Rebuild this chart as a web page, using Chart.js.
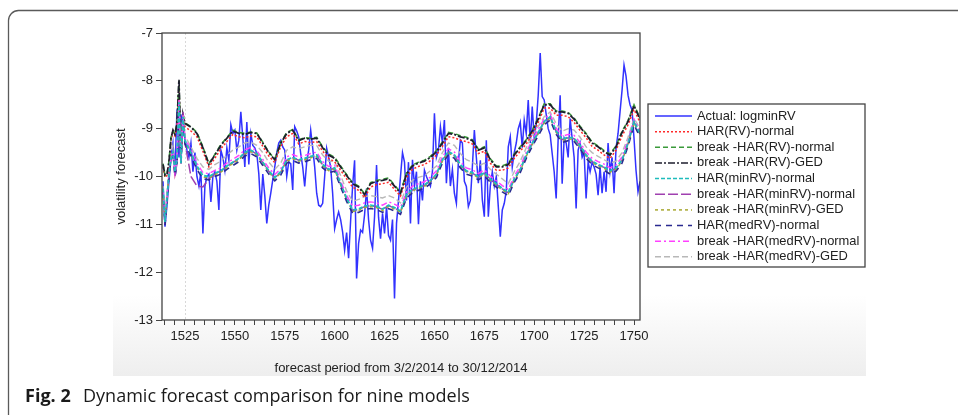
<!DOCTYPE html>
<html>
<head>
<meta charset="utf-8">
<script src="https://cdn.jsdelivr.net/npm/chart.js@4.4.1/dist/chart.umd.min.js"></script>
<style>
  html, body { margin: 0; padding: 0; background: #fff; }
  canvas { display: block; }
</style>
</head>
<body>
<canvas id="chart" width="958" height="415"></canvas>
<script>
// observation numbers of the actual series start here (one value per day)
const actualStart = 1514;
const actualLogMinRV = [
  -10.1, -11.05, -10.6, -10.1, -9.6, -9.3, -9.9, -8.6, -9.6, -8.7,
  -9.0, -9.2, -9.45, -9.6, -9.3, -9.9, -9.5, -10.0, -10.2, -9.9,
  -11.19, -10.2, -10.0, -9.95, -10.53, -10.0, -9.9, -10.1, -10.7, -9.45,
  -9.6, -9.87, -9.4, -9.66, -8.92, -9.1, -9.03, -9.45, -9.24, -8.65,
  -9.2, -9.8, -8.86, -9.75, -9.1, -9.35, -9.4, -9.52, -9.94, -10.7,
  -9.95, -10.4, -10.98, -10.6, -10.35, -10.07, -9.8, -9.5, -9.3, -9.24,
  -9.38, -9.45, -10.0, -9.7, -9.73, -10.28, -8.96, -9.05, -9.17, -9.52,
  -9.8, -10.21, -9.7, -9.45, -9.03, -9.4, -9.8, -10.35, -10.6, -10.63,
  -10.56, -10.0, -9.41, -9.6, -9.8, -10.35, -11.09, -10.9, -10.74, -10.9,
  -11.16, -11.54, -11.17, -11.71, -10.93, -10.2, -9.66, -12.13, -11.4, -11.12,
  -11.17, -10.8, -10.25, -10.9, -11.33, -11.5, -10.84, -9.76, -10.85, -11.3,
  -10.77, -11.19, -10.63, -11.23, -11.33, -10.9, -12.55, -10.98, -10.5, -10.0,
  -9.5, -9.7, -10.5, -9.7, -10.98, -9.65, -10.2, -9.9, -11.0, -10.1,
  -10.5, -9.87, -10.0, -10.1, -10.2, -9.9, -8.68, -9.6, -9.45, -8.96,
  -9.3, -8.82, -10.14, -9.4, -10.2, -9.85, -10.35, -10.56, -9.7, -9.24,
  -9.3, -10.1, -10.21, -10.63, -10.5, -9.8, -9.03, -9.6, -10.14, -9.66,
  -10.49, -10.84, -9.24, -10.84, -10.2, -9.9, -10.2, -10.0, -10.63, -11.26,
  -10.7, -10.56, -10.3, -9.38, -9.17, -9.8, -9.5, -9.3, -9.0, -8.86,
  -9.4, -8.82, -9.1, -8.4, -9.3, -8.54, -9.2, -8.9, -8.3, -7.42,
  -8.33, -8.4, -8.7, -9.0, -9.13, -9.52, -9.9, -10.46, -9.2, -8.3,
  -10.15, -9.2, -9.3, -9.6, -8.79, -9.2, -9.6, -10.67, -9.45, -9.3,
  -9.6, -9.5, -10.46, -9.7, -9.9, -9.7, -9.8, -9.95, -10.39, -9.8,
  -10.35, -9.9, -10.32, -9.3, -9.9, -9.6, -10.35, -9.4, -9.1, -8.65,
  -8.2, -7.67, -7.9, -8.3, -8.5, -8.61, -9.2, -9.87, -10.32, -10.1
];

const fcX = [
  1514, 1515, 1516, 1517, 1518, 1519, 1520, 1521, 1522, 1523, 1524,
  1525, 1528, 1531, 1534, 1537, 1540, 1543, 1546, 1549, 1552, 1555, 1558, 1561, 1564, 1567,
  1570, 1573, 1576, 1579, 1582, 1585, 1588, 1591, 1594, 1597, 1600, 1603, 1606, 1609, 1612,
  1615, 1618, 1621, 1624, 1627, 1630, 1633, 1636, 1639, 1642, 1645, 1648, 1651, 1654, 1657,
  1660, 1663, 1666, 1669, 1672, 1675, 1678, 1681, 1684, 1687, 1690, 1693, 1696, 1699, 1702,
  1705, 1708, 1711, 1714, 1717, 1720, 1723, 1726, 1729, 1732, 1735, 1738, 1741, 1744, 1747,
  1750, 1753
];

const harRvNormal = [
  -9.8, -10.02, -9.98, -9.72, -9.25, -9.08, -9.15, -8.95, -8.1, -9.62, -8.78,
  -8.96, -9.05, -9.17, -9.47, -9.8, -9.62, -9.42, -9.27, -9.12, -9.17, -9.19, -9.15, -9.17, -9.37, -9.57,
  -9.71, -9.37, -9.17, -9.1, -9.32, -9.27, -9.29, -9.27, -9.47, -9.62, -9.69, -9.87, -10.05, -10.22, -10.29,
  -10.44, -10.22, -10.17, -10.15, -10.12, -10.27, -10.41, -10.02, -9.85, -9.79, -9.75, -9.67, -9.55, -9.37, -9.17,
  -9.19, -9.24, -9.27, -9.32, -9.52, -9.47, -9.72, -9.87, -9.87, -9.82, -9.62, -9.47, -9.32, -9.12, -8.87,
  -8.57, -8.57, -8.72, -8.72, -8.75, -8.87, -9.04, -9.19, -9.37, -9.45, -9.55, -9.62, -9.45, -9.15, -8.92,
  -8.6, -8.87
];
const breakHarRvNormal = [
  -9.73, -9.98, -9.95, -9.68, -9.18, -9.05, -9.1, -8.88, -8.0, -9.58, -8.72,
  -8.88, -8.96, -9.08, -9.38, -9.73, -9.54, -9.33, -9.19, -9.03, -9.08, -9.1, -9.07, -9.09, -9.28, -9.49,
  -9.63, -9.29, -9.08, -9.02, -9.23, -9.19, -9.2, -9.18, -9.38, -9.53, -9.6, -9.78, -9.96, -10.13, -10.2,
  -10.36, -10.13, -10.08, -10.06, -10.03, -10.18, -10.33, -9.93, -9.76, -9.7, -9.66, -9.58, -9.46, -9.28, -9.08,
  -9.1, -9.15, -9.18, -9.23, -9.43, -9.38, -9.63, -9.78, -9.78, -9.73, -9.53, -9.38, -9.23, -9.03, -8.78,
  -8.48, -8.48, -8.63, -8.63, -8.66, -8.78, -8.95, -9.1, -9.28, -9.36, -9.46, -9.53, -9.36, -9.06, -8.83,
  -8.5, -8.78
];
const breakHarRvGed = [
  -9.75, -9.97, -9.96, -9.7, -9.2, -9.03, -9.12, -8.9, -7.98, -9.6, -8.7,
  -8.89, -8.97, -9.1, -9.4, -9.75, -9.55, -9.35, -9.2, -9.05, -9.1, -9.12, -9.08, -9.1, -9.3, -9.5,
  -9.65, -9.3, -9.1, -9.03, -9.25, -9.2, -9.22, -9.2, -9.4, -9.55, -9.62, -9.8, -9.98, -10.15, -10.22,
  -10.38, -10.15, -10.1, -10.08, -10.05, -10.2, -10.35, -9.95, -9.78, -9.72, -9.68, -9.6, -9.48, -9.3, -9.1,
  -9.12, -9.17, -9.2, -9.25, -9.45, -9.4, -9.65, -9.8, -9.8, -9.75, -9.55, -9.4, -9.25, -9.05, -8.8,
  -8.5, -8.5, -8.65, -8.65, -8.68, -8.8, -8.97, -9.12, -9.3, -9.38, -9.48, -9.55, -9.38, -9.08, -8.85,
  -8.52, -8.8
];
const harMinRvNormal = [
  -10.25, -10.95, -10.45, -9.95, -9.62, -9.48, -9.9, -9.65, -8.45, -9.72, -8.75,
  -9.25, -9.5, -9.78, -9.98, -10.0, -9.93, -9.88, -9.78, -9.7, -9.62, -9.5, -9.45, -9.52, -9.7, -9.88,
  -10.02, -9.9, -9.65, -9.6, -9.65, -9.62, -9.58, -9.55, -9.75, -9.85, -9.82, -10.15, -10.45, -10.7, -10.68,
  -10.62, -10.6, -10.62, -10.68, -10.6, -10.65, -10.72, -10.38, -10.27, -10.22, -10.18, -10.08, -9.95, -9.65, -9.48,
  -9.55, -9.75, -9.88, -9.92, -10.0, -9.92, -10.05, -10.15, -10.25, -10.33, -10.05, -9.85, -9.55, -9.3, -9.08,
  -8.85, -8.75, -9.05, -9.22, -9.18, -9.2, -9.35, -9.55, -9.68, -9.75, -9.8, -9.88, -9.82, -9.65, -9.3,
  -8.85, -9.1
];
const breakHarMinRvNormal = [
  -10.35, -11.0, -10.5, -9.98, -9.65, -9.5, -10.0, -9.72, -8.5, -9.75, -8.65,
  -9.3, -10.0, -10.2, -10.22, -10.05, -9.95, -9.89, -9.79, -9.71, -9.63, -9.51, -9.46, -9.53, -9.71, -9.89,
  -10.03, -9.91, -9.66, -9.61, -9.66, -9.63, -9.59, -9.56, -9.76, -9.86, -9.83, -10.16, -10.46, -10.71, -10.69,
  -10.63, -10.61, -10.63, -10.69, -10.61, -10.66, -10.73, -10.39, -10.28, -10.23, -10.19, -10.09, -9.96, -9.66, -9.49,
  -9.56, -9.76, -9.89, -9.93, -10.01, -9.93, -10.06, -10.16, -10.26, -10.34, -10.06, -9.86, -9.56, -9.31, -9.09,
  -8.86, -8.76, -9.06, -9.23, -9.19, -9.21, -9.36, -9.56, -9.69, -9.76, -9.81, -9.89, -9.83, -9.66, -9.31,
  -8.86, -9.11
];
const breakHarMinRvGed = [
  -10.3, -10.95, -10.45, -9.95, -9.6, -9.45, -9.95, -9.7, -8.42, -9.7, -8.7,
  -9.28, -9.53, -9.81, -10.01, -10.03, -9.96, -9.91, -9.81, -9.73, -9.65, -9.53, -9.48, -9.55, -9.73, -9.91,
  -10.05, -9.93, -9.68, -9.63, -9.68, -9.65, -9.61, -9.58, -9.78, -9.88, -9.85, -10.18, -10.48, -10.73, -10.71,
  -10.65, -10.63, -10.65, -10.71, -10.63, -10.68, -10.75, -10.41, -10.3, -10.25, -10.21, -10.11, -9.98, -9.68, -9.51,
  -9.58, -9.78, -9.91, -9.95, -10.03, -9.95, -10.08, -10.18, -10.28, -10.36, -10.08, -9.88, -9.58, -9.33, -9.11,
  -8.88, -8.78, -9.08, -9.25, -9.21, -9.23, -9.38, -9.58, -9.71, -9.78, -9.83, -9.91, -9.85, -9.68, -9.33,
  -8.88, -9.13
];
const harMedRvNormal = [
  -10.32, -11.02, -10.5, -10.0, -9.66, -9.5, -10.0, -9.75, -8.5, -9.75, -8.8,
  -9.32, -9.57, -9.85, -10.05, -10.07, -10.0, -9.95, -9.85, -9.77, -9.69, -9.57, -9.52, -9.59, -9.77, -9.95,
  -10.09, -9.97, -9.72, -9.67, -9.72, -9.69, -9.65, -9.62, -9.82, -9.92, -9.89, -10.22, -10.52, -10.77, -10.75,
  -10.69, -10.67, -10.69, -10.75, -10.67, -10.72, -10.79, -10.45, -10.34, -10.29, -10.25, -10.15, -10.02, -9.72, -9.55,
  -9.62, -9.82, -9.95, -9.99, -10.07, -9.99, -10.12, -10.22, -10.32, -10.4, -10.12, -9.92, -9.62, -9.37, -9.15,
  -8.92, -8.82, -9.12, -9.29, -9.25, -9.27, -9.42, -9.62, -9.75, -9.82, -9.87, -9.95, -9.89, -9.72, -9.37,
  -8.92, -9.17
];
const breakHarMedRvNormal = [
  -10.3, -10.9, -10.4, -9.9, -9.6, -9.45, -9.95, -9.7, -8.4, -9.7, -8.7,
  -9.2, -9.44, -9.72, -9.92, -9.94, -9.87, -9.82, -9.72, -9.64, -9.56, -9.44, -9.39, -9.46, -9.64, -9.82,
  -9.96, -9.84, -9.59, -9.54, -9.59, -9.56, -9.52, -9.49, -9.69, -9.79, -9.76, -10.09, -10.39, -10.62, -10.6,
  -10.55, -10.53, -10.55, -10.6, -10.53, -10.58, -10.65, -10.32, -10.2, -10.15, -10.11, -10.01, -9.88, -9.58, -9.42,
  -9.49, -9.69, -9.82, -9.86, -9.94, -9.86, -9.99, -10.09, -10.19, -10.27, -9.99, -9.79, -9.49, -9.24, -9.02,
  -8.79, -8.7, -8.99, -9.16, -9.12, -9.14, -9.29, -9.49, -9.62, -9.69, -9.74, -9.82, -9.76, -9.59, -9.24,
  -8.8, -9.04
];
const breakHarMedRvGed = [
  -10.2, -10.85, -10.35, -9.85, -9.5, -9.35, -9.85, -9.6, -8.35, -9.65, -8.7,
  -9.15, -9.38, -9.62, -9.8, -9.85, -9.75, -9.68, -9.55, -9.45, -9.38, -9.3, -9.28, -9.35, -9.5, -9.7,
  -9.85, -9.72, -9.45, -9.38, -9.42, -9.38, -9.35, -9.35, -9.55, -9.68, -9.68, -9.98, -10.3, -10.52, -10.48,
  -10.42, -10.4, -10.42, -10.45, -10.4, -10.45, -10.55, -10.22, -10.08, -10.02, -9.98, -9.88, -9.78, -9.5, -9.3,
  -9.35, -9.52, -9.65, -9.7, -9.78, -9.72, -9.85, -9.95, -10.05, -10.15, -9.9, -9.68, -9.4, -9.15, -8.95,
  -8.75, -8.65, -8.9, -9.05, -9.0, -9.03, -9.18, -9.38, -9.5, -9.58, -9.65, -9.72, -9.68, -9.5, -9.18,
  -8.78, -9.0
];

const yTicks = { min: -13, max: -7, step: 1 };
const xRange = { min: 1513.5, max: 1753, minorStep: 5, majorStep: 25 };
const forecastStart = 1525;

const seriesDefs = [
  { label: 'Actual: logminRV', values: actualLogMinRV, color: '#3232ff', dash: [], width: 1.5, order: 10 },
  { label: 'HAR(RV)-normal', values: harRvNormal, color: '#ff2a2a', dash: [2, 2], width: 1.5, order: 8 },
  { label: 'break -HAR(RV)-normal', values: breakHarRvNormal, color: '#3a9a3a', dash: [5, 3], width: 1.6, order: 7 },
  { label: 'break -HAR(RV)-GED', values: breakHarRvGed, color: '#1e1e2e', dash: [7, 2, 2, 2], width: 1.8, order: 6 },
  { label: 'HAR(minRV)-normal', values: harMinRvNormal, color: '#1fbcbc', dash: [4, 2], width: 1.8, order: 1 },
  { label: 'break -HAR(minRV)-normal', values: breakHarMinRvNormal, color: '#a040b0', dash: [10, 3], width: 1.5, order: 5 },
  { label: 'break -HAR(minRV)-GED', values: breakHarMinRvGed, color: '#a8a830', dash: [3, 3], width: 1.4, order: 4 },
  { label: 'HAR(medRV)-normal', values: harMedRvNormal, color: '#2a2a90', dash: [6, 5], width: 1.6, order: 3 },
  { label: 'break -HAR(medRV)-normal', values: breakHarMedRvNormal, color: '#ff40ff', dash: [6, 3, 2, 3], width: 1.4, order: 2 },
  { label: 'break -HAR(medRV)-GED', values: breakHarMedRvGed, color: '#b8b8b8', dash: [6, 3], width: 1.4, order: 9 }
];

seriesDefs.slice(1).forEach(s => {
  if (s.values.length !== fcX.length) throw new Error(s.label + ' has ' + s.values.length + ' values, expected ' + fcX.length);
});
if (actualLogMinRV.length !== 240) throw new Error('actual has ' + actualLogMinRV.length);

const datasets = seriesDefs.map((s, idx) => ({
  label: s.label,
  data: idx === 0
    ? s.values.map((y, i) => ({ x: actualStart + i, y }))
    : s.values.map((y, i) => ({ x: fcX[i], y })),
  borderColor: s.color,
  borderDash: s.dash,
  borderWidth: s.width,
  order: s.order,
  fill: false,
  pointRadius: 0,
  tension: 0
}));

const AXIS_FONT = '"Liberation Sans", Arial, sans-serif';

const decorPlugin = {
  id: 'decor',
  beforeDraw(chart) {
    const ctx = chart.ctx;
    const a = chart.chartArea;
    ctx.save();
    // grey fade under the graph panel
    const g = ctx.createLinearGradient(0, 295, 0, 376);
    g.addColorStop(0, '#ffffff');
    g.addColorStop(1, '#eeeeee');
    ctx.fillStyle = g;
    ctx.fillRect(113, 20, 753, 356);
    ctx.fillStyle = '#ffffff';
    ctx.fillRect(a.left, a.top, a.right - a.left, a.bottom - a.top);
    // outer figure frame (rounded corner top-left)
    ctx.beginPath();
    ctx.moveTo(8.5, 430);
    ctx.lineTo(8.5, 20.5);
    ctx.arcTo(8.5, 10.5, 18.5, 10.5, 10);
    ctx.lineTo(970, 10.5);
    ctx.strokeStyle = '#5a5a5a';
    ctx.lineWidth = 1.3;
    ctx.stroke();
    ctx.restore();
  },
  beforeDatasetsDraw(chart) {
    const ctx = chart.ctx;
    const a = chart.chartArea;
    const x = Math.round(chart.scales.x.getPixelForValue(forecastStart)) + 0.5;
    ctx.save();
    ctx.strokeStyle = '#d8d8d8';
    ctx.lineWidth = 1;
    ctx.setLineDash([2, 2]);
    ctx.beginPath();
    ctx.moveTo(x, a.top);
    ctx.lineTo(x, a.bottom);
    ctx.stroke();
    ctx.restore();
  },
  afterDraw(chart) {
    const ctx = chart.ctx;
    const a = chart.chartArea;
    ctx.save();
    // plot frame
    ctx.strokeStyle = '#444';
    ctx.lineWidth = 1.3;
    ctx.strokeRect(a.left, a.top, a.right - a.left, a.bottom - a.top);

    // axis titles
    ctx.fillStyle = '#222';
    ctx.font = '13px ' + AXIS_FONT;
    ctx.textAlign = 'center';
    ctx.textBaseline = 'middle';
    ctx.fillText('forecast period from 3/2/2014 to 30/12/2014', (a.left + a.right) / 2, 368);
    ctx.save();
    ctx.translate(121, (a.top + a.bottom) / 2);
    ctx.rotate(-Math.PI / 2);
    ctx.fillText('volatility forecast', 0, 0);
    ctx.restore();

    // legend box
    const lg = { left: 648, top: 104, right: 865, bottom: 267, firstY: 116, rowH: 15.65, x0: 655, x1: 692, textX: 697 };
    ctx.fillStyle = '#fff';
    ctx.fillRect(lg.left, lg.top, lg.right - lg.left, lg.bottom - lg.top);
    ctx.strokeStyle = '#444';
    ctx.lineWidth = 1.3;
    ctx.strokeRect(lg.left, lg.top, lg.right - lg.left, lg.bottom - lg.top);
    ctx.textAlign = 'left';
    ctx.textBaseline = 'middle';
    ctx.font = '12.9px ' + AXIS_FONT;
    chart.data.datasets.forEach((ds, i) => {
      const y = lg.firstY + i * lg.rowH;
      ctx.strokeStyle = ds.borderColor;
      ctx.lineWidth = 1.5;
      ctx.setLineDash(ds.borderDash);
      ctx.beginPath();
      ctx.moveTo(lg.x0, y);
      ctx.lineTo(lg.x1, y);
      ctx.stroke();
      ctx.setLineDash([]);
      ctx.fillStyle = '#222';
      ctx.fillText(ds.label, lg.textX, y);
    });

    // figure caption
    const capFont = '"Open Sans", "Noto Sans", sans-serif';
    const rest = 'Dynamic forecast comparison for nine models';
    ctx.font = '17px ' + capFont;
    const w17 = ctx.measureText(rest).width;
    const size = 17 * 387 / w17;
    ctx.textBaseline = 'alphabetic';
    ctx.fillStyle = '#1a1a1a';
    ctx.font = 'bold ' + size.toFixed(2) + 'px ' + capFont;
    ctx.fillText('Fig. 2', 25, 402);
    ctx.font = size.toFixed(2) + 'px ' + capFont;
    ctx.fillText(rest, 83, 402);
    ctx.restore();
  }
};

new Chart(document.getElementById('chart').getContext('2d'), {
  type: 'line',
  data: { datasets },
  plugins: [decorPlugin],
  options: {
    responsive: false,
    animation: false,
    events: [],
    layout: { padding: { left: 0, right: 318, top: 33, bottom: 0 } },
    plugins: { legend: { display: false }, tooltip: { enabled: false } },
    scales: {
      x: {
        type: 'linear',
        min: xRange.min,
        max: xRange.max,
        afterFit: s => { s.height = 95; },
        border: { display: false },
        grid: { drawOnChartArea: false, tickLength: 5, color: '#444', lineWidth: 1 },
        ticks: {
          stepSize: xRange.minorStep,
          includeBounds: false,
          autoSkip: false,
          maxRotation: 0,
          padding: 4,
          color: '#222',
          font: { family: AXIS_FONT, size: 13 },
          callback: v => (v % xRange.majorStep === 0 ? String(v) : '')
        }
      },
      y: {
        min: yTicks.min,
        max: yTicks.max,
        afterFit: s => { s.width = 162; },
        border: { display: false },
        grid: { drawOnChartArea: false, tickLength: 6, color: '#444', lineWidth: 1 },
        ticks: {
          stepSize: yTicks.step,
          padding: 3,
          color: '#222',
          font: { family: AXIS_FONT, size: 13 }
        }
      }
    }
  }
});
</script>
</body>
</html>
